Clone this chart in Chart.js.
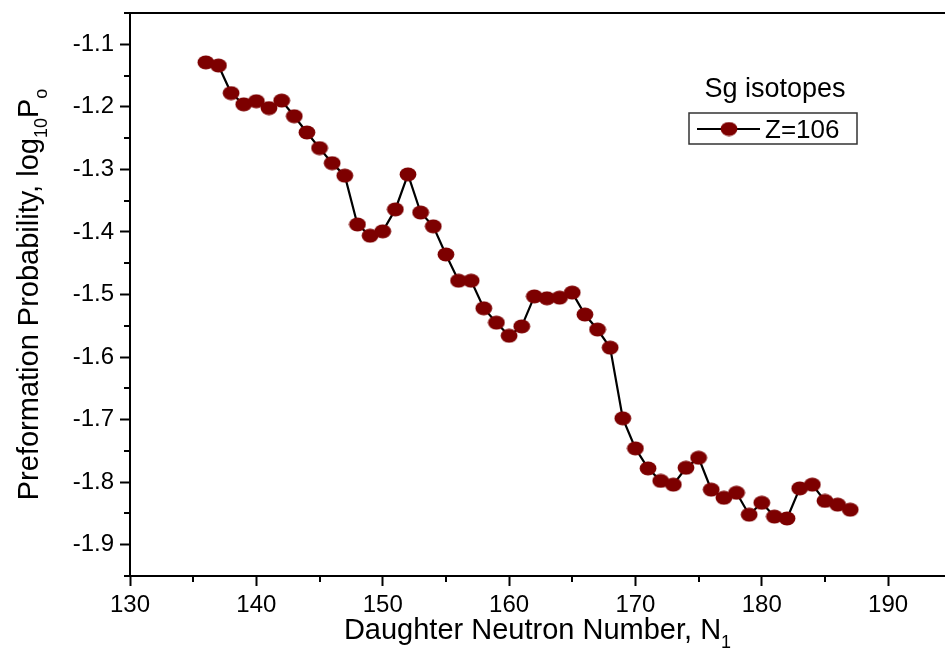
<!DOCTYPE html>
<html>
<head>
<meta charset="utf-8">
<script src="https://cdn.jsdelivr.net/npm/chart.js@4"></script>
<style>
  body { margin: 0; background: #fff; }
  canvas { display: block; }
</style>
</head>
<body>
<canvas id="chart" width="945" height="665"></canvas>
<script>
const neutronNumbers = [136, 137, 138, 139, 140, 141, 142, 143, 144, 145, 146, 147, 148, 149, 150, 151, 152, 153, 154, 155, 156, 157, 158, 159, 160, 161, 162, 163, 164, 165, 166, 167, 168, 169, 170, 171, 172, 173, 174, 175, 176, 177, 178, 179, 180, 181, 182, 183, 184, 185, 186, 187];
const logPo = [-1.129, -1.134, -1.178, -1.196, -1.191, -1.202, -1.190, -1.215, -1.241, -1.266, -1.290, -1.310, -1.388, -1.406, -1.399, -1.364, -1.308, -1.369, -1.391, -1.436, -1.478, -1.478, -1.522, -1.545, -1.566, -1.551, -1.503, -1.506, -1.505, -1.497, -1.532, -1.556, -1.585, -1.698, -1.746, -1.778, -1.798, -1.804, -1.777, -1.761, -1.812, -1.825, -1.817, -1.852, -1.833, -1.855, -1.858, -1.810, -1.804, -1.830, -1.836, -1.844];
const xTicks = [130, 140, 150, 160, 170, 180, 190];
const xMinorTicks = [135, 145, 155, 165, 175, 185];
const yTicks = [-1.9, -1.8, -1.7, -1.6, -1.5, -1.4, -1.3, -1.2, -1.1];
const yMinorTicks = [-1.95, -1.85, -1.75, -1.65, -1.55, -1.45, -1.35, -1.25, -1.15, -1.05];
const seriesName = 'Z=106';
const legendTitle = 'Sg isotopes';

const FONT = '"Liberation Sans", Arial, sans-serif';
const markerColor = '#7d0000';

// slightly wide ellipse marker, like the original figure
const marker = document.createElement('canvas');
marker.width = 18;
marker.height = 15;
(function () {
    const c = marker.getContext('2d');
    c.fillStyle = markerColor;
    c.beginPath();
    c.ellipse(9, 7.5, 8.4, 7, 0, 0, Math.PI * 2);
    c.fill();
})();

function drawParts(ctx, parts, size) {
    let x = 0;
    parts.forEach(p => {
        const s = p.sub ? size * 0.62 : size;
        ctx.font = s + 'px ' + FONT;
        const dy = p.sub ? size * 0.3 : 0;
        ctx.fillText(p.t, x, dy);
        x += ctx.measureText(p.t).width;
    });
    return x;
}
function measureParts(ctx, parts, size) {
    let w = 0;
    parts.forEach(p => {
        ctx.font = (p.sub ? size * 0.62 : size) + 'px ' + FONT;
        w += ctx.measureText(p.t).width;
    });
    return w;
}

const extras = {
    id: 'extras',
    afterDraw(chart) {
        const ctx = chart.ctx;
        const area = chart.chartArea;
        const xs = chart.scales.x, ys = chart.scales.y;
        ctx.save();
        ctx.strokeStyle = '#000';
        ctx.fillStyle = '#000';
        ctx.lineWidth = 2;

        // minor ticks
        ctx.beginPath();
        yMinorTicks.forEach(v => {
            const py = Math.round(ys.getPixelForValue(v));
            ctx.moveTo(area.left - 6, py);
            ctx.lineTo(area.left, py);
        });
        xMinorTicks.forEach(v => {
            const px = Math.round(xs.getPixelForValue(v));
            ctx.moveTo(px, area.bottom);
            ctx.lineTo(px, area.bottom + 6);
        });
        // top frame
        ctx.moveTo(area.left - 1, area.top);
        ctx.lineTo(area.right, area.top);
        ctx.stroke();

        // axis titles
        ctx.textBaseline = 'alphabetic';
        const tSize = 29;
        const xParts = [{ t: 'Daughter Neutron Number, N' }, { t: '1', sub: true }];
        const xw = measureParts(ctx, xParts, tSize);
        ctx.save();
        ctx.translate((area.left + area.right) / 2 - xw / 2, 639);
        drawParts(ctx, xParts, tSize);
        ctx.restore();

        const yParts = [{ t: 'Preformation Probability, log' }, { t: '10', sub: true }, { t: 'P' }, { t: 'o', sub: true }];
        const yw = measureParts(ctx, yParts, tSize);
        ctx.save();
        ctx.translate(38, (area.top + area.bottom) / 2 + yw / 2);
        ctx.rotate(-Math.PI / 2);
        drawParts(ctx, yParts, tSize);
        ctx.restore();

        // legend
        ctx.font = '27px ' + FONT;
        ctx.textAlign = 'center';
        ctx.fillText(legendTitle, 775, 97);
        ctx.lineWidth = 1.5;
        ctx.strokeStyle = '#333';
        ctx.strokeRect(689, 113, 168, 31);
        ctx.strokeStyle = '#000';
        ctx.lineWidth = 2.2;
        ctx.beginPath();
        ctx.moveTo(697, 129);
        ctx.lineTo(760, 129);
        ctx.stroke();
        ctx.drawImage(marker, 729 - 9, 129 - 7.5);
        ctx.font = '26px ' + FONT;
        ctx.textAlign = 'left';
        ctx.fillText(seriesName, 765, 138);
        ctx.restore();
    }
};

new Chart(document.getElementById('chart'), {
    type: 'line',
    data: {
        datasets: [{
            label: seriesName,
            data: neutronNumbers.map((n, i) => ({ x: n, y: logPo[i] })),
            borderColor: '#000',
            borderWidth: 2.2,
            tension: 0,
            pointStyle: marker,
            pointRadius: 8,
            pointHoverRadius: 8
        }]
    },
    options: {
        responsive: false,
        animation: false,
        layout: { autoPadding: false, padding: { top: 13, right: 0, left: 0, bottom: 0 } },
        plugins: { legend: { display: false }, tooltip: { enabled: false } },
        scales: {
            x: {
                type: 'linear',
                min: 130,
                max: 194.5,
                afterBuildTicks: s => { s.ticks = xTicks.map(v => ({ value: v })); },
                afterFit: s => { s.height = 89; s.paddingLeft = 0; s.paddingRight = 0; },
                ticks: { color: '#000', font: { family: FONT, size: 24 }, padding: 5, maxRotation: 0 },
                grid: { drawOnChartArea: false, tickLength: 10, tickColor: '#000', tickWidth: 2 },
                border: { color: '#000', width: 2 }
            },
            y: {
                min: -1.95,
                max: -1.05,
                afterBuildTicks: s => { s.ticks = yTicks.map(v => ({ value: v })); },
                afterFit: s => { s.width = 130; s.paddingTop = 0; s.paddingBottom = 0; },
                ticks: { color: '#000', font: { family: FONT, size: 24 }, padding: 6, callback: v => v.toFixed(1) },
                grid: { drawOnChartArea: false, tickLength: 10, tickColor: '#000', tickWidth: 2 },
                border: { color: '#000', width: 2 }
            }
        }
    },
    plugins: [extras]
});
</script>
</body>
</html>
